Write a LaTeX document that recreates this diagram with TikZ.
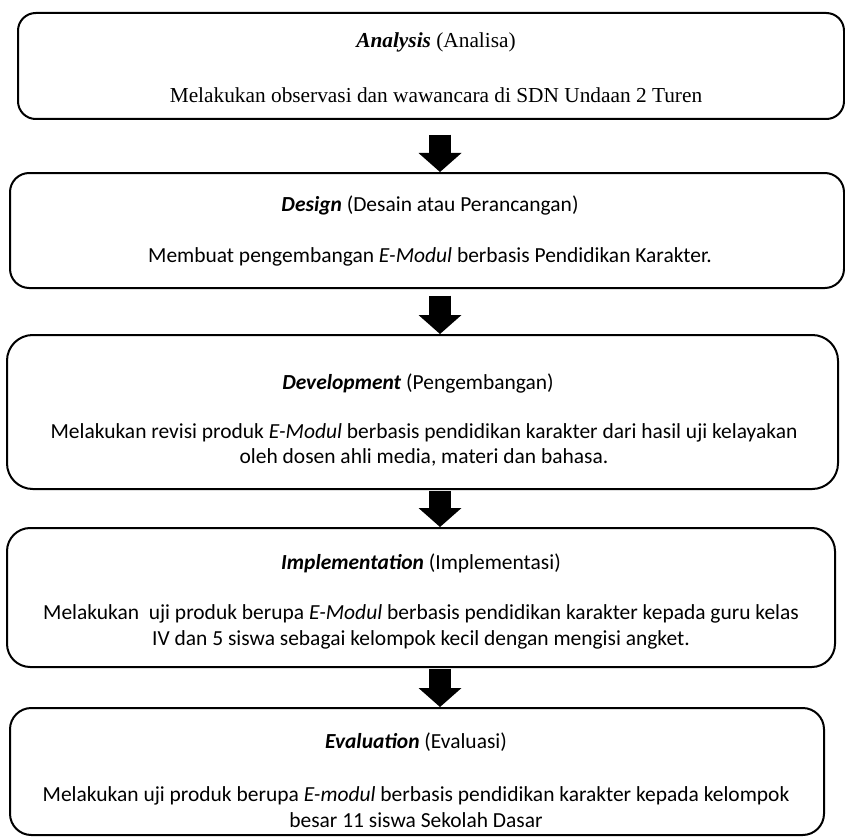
\documentclass[tikz,border=0pt]{standalone}
\usepackage{fontspec}
\setmainfont{Carlito}
\newfontfamily\timesfont{Liberation Serif}
\usetikzlibrary{arrows.meta,positioning}

\tikzset{
  stagebox/.style={draw, line width=1.5pt, inner sep=0pt},
  stagetext/.style={inner sep=0pt, align=center, font=\fontsize{16.1pt}{19pt}\selectfont},
  serifText/.style={inner sep=0pt, align=center, font=\timesfont\fontsize{16pt}{19pt}\selectfont},
  blockarrow/.style={line width=16.5pt, -{Triangle[length=14.25pt, width=32.25pt, line width=0pt]}}
}

\begin{document}
\begin{tikzpicture}[x=0.75pt, y=-0.75pt]
\useasboundingbox (0,0) rectangle (845,838);
\coordinate (axis) at (440,0);

% the five stages
\node[stagebox, minimum width=619.5pt, minimum height=79.5pt, rounded corners=13.3pt] (ana) at (431,66) {};
\node[serifText] (anaTitle) at (436,42) {\textbf{\textit{Analysis}} (Analisa)};
\node[serifText] (anaBody) at (436,95) {Melakukan observasi dan wawancara di SDN Undaan 2 Turen};

\node[stagebox, minimum width=625.5pt, minimum height=86.25pt, rounded corners=14.4pt] (des) at (427,230.5) {};
\node[stagetext] (desTitle) at (430,205) {\textbf{\textit{Design}} (Desain atau Perancangan)};
\node[stagetext] (desBody) at (430,257) {Membuat pengembangan \textit{E-Modul} berbasis Pendidikan Karakter.};

\node[stagebox, minimum width=623.25pt, minimum height=115.5pt, rounded corners=19.3pt] (dev) at (422.5,412) {};
\node[stagetext] (devTitle) at (418,383) {\textbf{\textit{Development}} (Pengembangan)};
\node[stagetext] (devBody) at (424,445) {Melakukan revisi produk \textit{E-Modul} berbasis pendidikan karakter dari hasil uji kelayakan\\
  oleh dosen ahli media, materi dan bahasa.};

\node[stagebox, minimum width=621pt, minimum height=104.25pt, rounded corners=17.4pt] (imp) at (421,597.5) {};
\node[stagetext] (impTitle) at (421,563) {\textbf{\textit{Implementation}} (Implementasi)};
\node[stagetext] (impBody) at (421,627) {Melakukan\ \ uji produk berupa \textit{E-Modul} berbasis pendidikan karakter kepada guru kelas\\
  IV dan 5 siswa sebagai kelompok kecil dengan mengisi angket.};

\node[stagebox, minimum width=610.5pt, minimum height=95.25pt, rounded corners=16pt] (eva) at (417,771.5) {};
\node[stagetext] (evaTitle) at (416,742) {\textbf{\textit{Evaluation}} (Evaluasi)};
\node[stagetext] (evaBody) at (416,807) {Melakukan uji produk berupa \textit{E-modul} berbasis pendidikan karakter kepada kelompok\\
  besar 11 siswa Sekolah Dasar};

% arrows between stages
\draw[blockarrow, shorten <=11pt] (ana.south -| axis) -- (des.north -| axis);
\draw[blockarrow, shorten <=5pt] (des.south -| axis) -- (dev.north -| axis);
\draw[blockarrow, shorten <=1pt] (dev.south -| axis) -- (imp.north -| axis);
\draw[blockarrow, shorten <=1pt] (imp.south -| axis) -- (eva.north -| axis);
\end{tikzpicture}
\end{document}
